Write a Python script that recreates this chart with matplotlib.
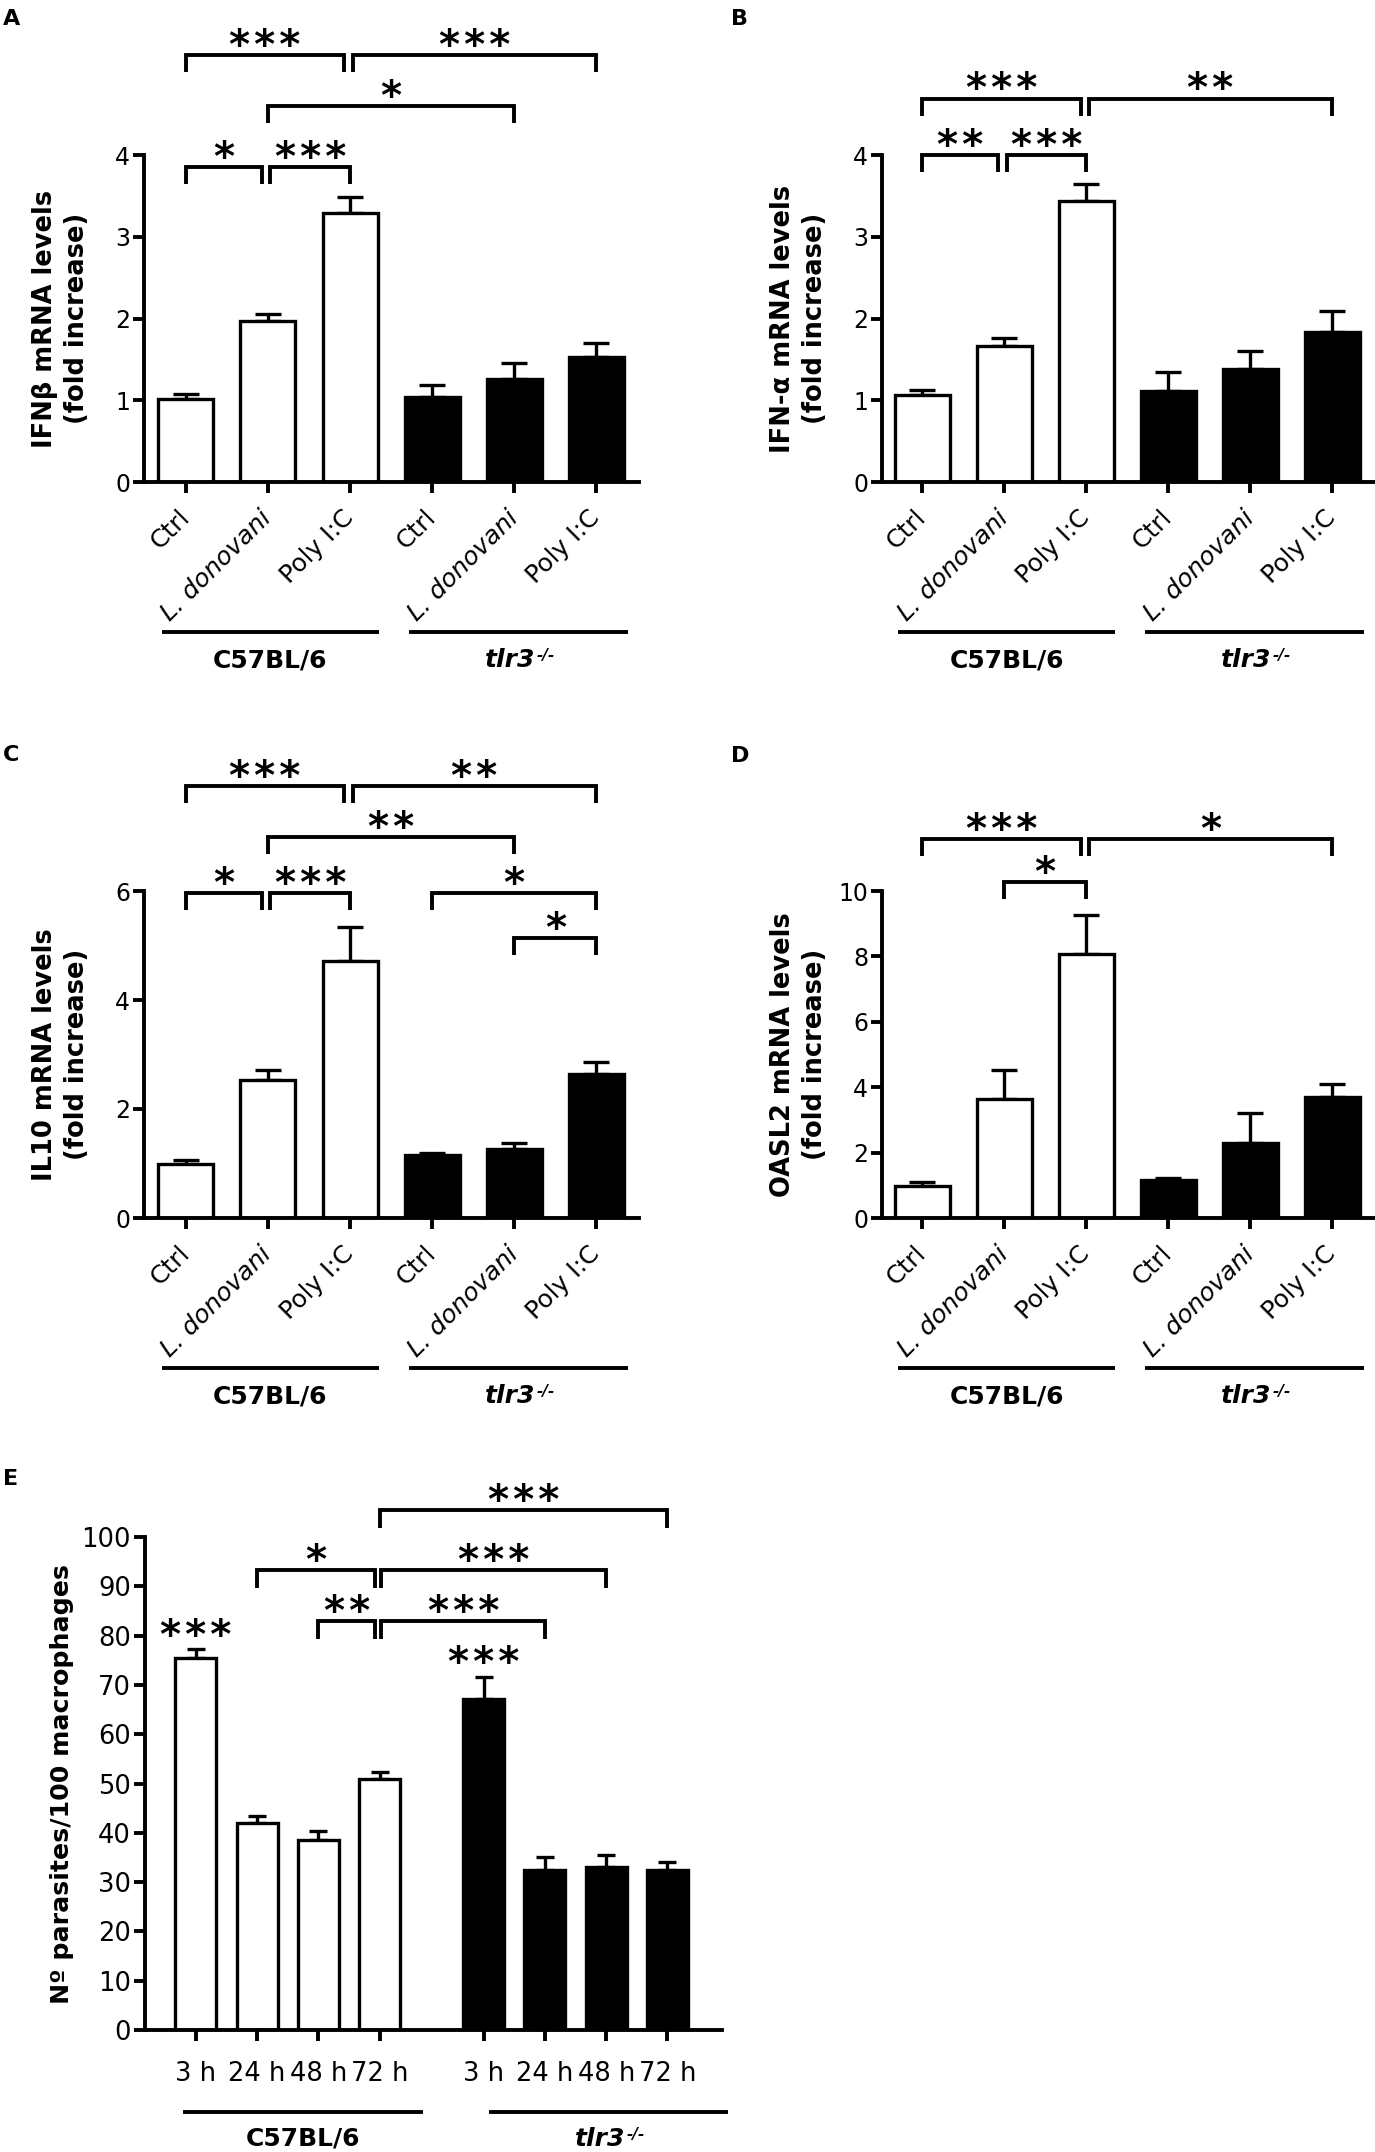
import numpy as np
import matplotlib
matplotlib.use('Agg')
import matplotlib.pyplot as plt
from matplotlib import transforms

plt.rcParams['font.family'] = ['DejaVu Sans']

W, H = 1375, 2152  # output size in pixels (dpi 100)

# ---- values ----
treatments = ['Ctrl', 'L. donovani', 'Poly I:C', 'Ctrl', 'L. donovani', 'Poly I:C']
times = ['3 h', '24 h', '48 h', '72 h', '3 h', '24 h', '48 h', '72 h']
strains = ['C57BL/6', 'tlr3']

ifnb_mean = [1.01, 1.97, 3.29, 1.04, 1.26, 1.53]
ifnb_sem = [0.07, 0.09, 0.20, 0.15, 0.19, 0.17]
ifna_mean = [1.06, 1.66, 3.44, 1.11, 1.38, 1.84]
ifna_sem = [0.07, 0.10, 0.21, 0.24, 0.22, 0.25]
il10_mean = [0.99, 2.53, 4.71, 1.15, 1.26, 2.65]
il10_sem = [0.08, 0.19, 0.63, 0.05, 0.11, 0.21]
oasl2_mean = [0.98, 3.65, 8.08, 1.16, 2.29, 3.69]
oasl2_sem = [0.11, 0.88, 1.18, 0.05, 0.91, 0.42]
parasites_mean = [75.4, 42.0, 38.5, 50.9, 67.1, 32.4, 33.0, 32.4]
parasites_sem = [1.8, 1.5, 1.9, 1.5, 4.6, 2.6, 2.4, 1.7]

# significance brackets: (bar i, bar j, height in data units, stars)
ifnb_sig = [(0, 2, 5.22, '***'), (2, 5, 5.22, '***'), (1, 4, 4.60, '*'),
            (0, 1, 3.85, '*'), (1, 2, 3.85, '***')]
ifna_sig = [(0, 2, 4.69, '***'), (2, 5, 4.69, '**'),
            (0, 1, 4.0, '**'), (1, 2, 4.0, '***')]
il10_sig = [(0, 2, 7.93, '***'), (2, 5, 7.93, '**'), (1, 4, 6.99, '**'),
            (0, 1, 5.96, '*'), (1, 2, 5.96, '***'), (3, 5, 5.96, '*'),
            (4, 5, 5.14, '*')]
oasl2_sig = [(0, 2, 11.59, '***'), (2, 5, 11.59, '*'), (1, 2, 10.28, '*')]
parasites_sig = [(3, 7, 105.5, '***'), (1, 3, 93.3, '*'), (3, 6, 93.3, '***'),
                 (2, 3, 83.0, '**'), (3, 5, 83.0, '***')]
parasites_single = [0, 4]  # bars with *** straight above them

LW = 2.8
STAR_FS = 29


def add_axes(fig, left, top, right, bottom):
    return fig.add_axes([left / W, 1 - bottom / H, (right - left) / W, (bottom - top) / H])


def stars(s):
    return '\u200a'.join(s)


def draw_panel(fig, ax, pos, xlabels, means, sems, n_white, ymax, ystep, xlim,
               ylabel, sig, spans, rotate, xtick_fs, ytick_fs, cap, ylab_fs,
               leg_px, line_dy, text_dy):
    ax_h = ax.get_position().height * H
    ax_w = ax.get_position().width * W
    colors = ['white'] * n_white + ['black'] * (len(means) - n_white)
    ax.errorbar(pos, means, yerr=[np.zeros(len(means)), sems], fmt='none',
                ecolor='black', elinewidth=2.4, capsize=cap, capthick=2.4, zorder=1)
    ax.bar(pos, means, width=0.67, color=colors, edgecolor='black',
           linewidth=2.4, zorder=2)

    for s in ['top', 'right']:
        ax.spines[s].set_visible(False)
    for s in ['left', 'bottom']:
        ax.spines[s].set_linewidth(LW)
    ax.set_xlim(*xlim)
    ax.set_ylim(0, ymax)
    ax.set_yticks(np.arange(0, ymax + ystep / 2, ystep))
    ax.set_xticks(pos)
    ax.tick_params(axis='both', width=LW, length=8, direction='out')
    ax.tick_params(axis='y', pad=2, labelsize=ytick_fs)
    ax.tick_params(axis='x', labelsize=xtick_fs)
    if rotate:
        ax.set_xticklabels(xlabels, rotation=45, ha='right', va='center',
                           rotation_mode='anchor')
        ax.tick_params(axis='x', pad=15)
        for t in ax.get_xticklabels():
            if 'donovani' in t.get_text():
                t.set_fontstyle('italic')
    else:
        ax.set_xticklabels(xlabels)
        ax.tick_params(axis='x', pad=14)

    ax.text(-83 / ax_w, 0.5, ylabel, transform=ax.transAxes, rotation=90,
            ha='center', va='center', fontsize=ylab_fs, fontweight='bold',
            linespacing=1.3)

    # brackets
    leg = leg_px / ax_h * ymax
    for i, j, y, lab in sig:
        x1, x2 = pos[i], pos[j]
        if any(b[0] == j and b[2] == y for b in sig):
            x2 -= 0.07
        if any(b[1] == i and b[2] == y for b in sig):
            x1 += 0.03
        ax.plot([x1, x1, x2, x2], [y - leg, y, y, y - leg], color='black',
                lw=LW, clip_on=False, solid_joinstyle='miter',
                solid_capstyle='butt')
        ax.annotate(stars(lab), xy=((x1 + x2) / 2, y), xytext=(0, -2),
                    textcoords='offset points', ha='center', va='baseline',
                    fontsize=STAR_FS, fontweight='bold', annotation_clip=False)

    # strain groups under the axis
    trans = transforms.blended_transform_factory(ax.transData, ax.transAxes)
    for (x1, x2), name in zip(spans, strains):
        ax.plot([x1, x2], [-line_dy / ax_h] * 2, transform=trans, color='black',
                lw=LW, clip_on=False, solid_capstyle='butt')
        xm = (x1 + x2) / 2
        if name == 'tlr3':
            t = ax.text(xm, -text_dy / ax_h, 'tlr3',
                        transform=transforms.offset_copy(trans, fig=fig, x=-9, y=0, units='dots'),
                        ha='center', va='center', fontsize=18,
                        fontweight='bold', fontstyle='italic')
            ax.annotate('-/-', xy=(1, 1), xycoords=t, xytext=(1, 0),
                        textcoords='offset points', ha='left', va='top',
                        fontsize=11, fontweight='bold', fontstyle='italic')
        else:
            ax.text(xm, -text_dy / ax_h, name, transform=trans, ha='center',
                    va='center', fontsize=18, fontweight='bold')


fig = plt.figure(figsize=(W / 100, H / 100), dpi=100)

pos6 = np.arange(6)
spans6 = [(-0.29, 2.35), (2.72, 5.39)]

axA = add_axes(fig, 144, 155, 639, 482)
draw_panel(fig, axA, pos6, treatments, ifnb_mean, ifnb_sem, 3, 4, 1, (-0.51, 5.52),
           'IFN\u03b2 mRNA levels\n(fold increase)', ifnb_sig, spans6, True,
           18, 17, 9.5, 18.5, 17, 150, 178)

axB = add_axes(fig, 882, 155, 1375, 482)
draw_panel(fig, axB, pos6, treatments, ifna_mean, ifna_sem, 3, 4, 1, (-0.49, 5.52),
           'IFN-\u03b1 mRNA levels\n(fold increase)', ifna_sig, spans6, True,
           18, 17, 9.5, 18.5, 17, 150, 178)

axC = add_axes(fig, 144, 891, 639, 1218)
draw_panel(fig, axC, pos6, treatments, il10_mean, il10_sem, 3, 6, 2, (-0.51, 5.52),
           'IL10 mRNA levels\n(fold increase)', il10_sig, spans6, True,
           18, 17, 9.5, 18.5, 17, 150, 178)

axD = add_axes(fig, 882, 891, 1375, 1218)
draw_panel(fig, axD, pos6, treatments, oasl2_mean, oasl2_sem, 3, 10, 2, (-0.49, 5.52),
           'OASL2 mRNA levels\n(fold increase)', oasl2_sig, spans6, True,
           18, 17, 9.5, 18.5, 17, 150, 178)

pos8 = np.array([0, 1, 2, 3, 4.7, 5.7, 6.7, 7.7])
axE = add_axes(fig, 145, 1537, 722, 2030)
draw_panel(fig, axE, pos8, times, parasites_mean, parasites_sem, 4, 100, 10, (-0.83, 8.59),
           'N\u00ba parasites/100 macrophages', parasites_sig,
           [(-0.21, 3.71), (4.79, 8.69)], False, 18.5, 18.5, 6.5, 18.2, 18, 82, 109)
for k in parasites_single:
    axE.annotate(stars('***'), xy=(pos8[k], parasites_mean[k] + parasites_sem[k]),
                 xytext=(0, 1), textcoords='offset points', ha='center',
                 va='baseline', fontsize=STAR_FS, fontweight='bold',
                 annotation_clip=False)

# panel letters
for letter, x, y in [('A', 3, 25), ('B', 731, 25), ('C', 3, 761), ('D', 731, 762), ('E', 3, 1485)]:
    fig.text(x / W, 1 - y / H, letter, fontsize=16, fontweight='bold',
             ha='left', va='baseline')

fig.savefig('out.png', dpi=100)
